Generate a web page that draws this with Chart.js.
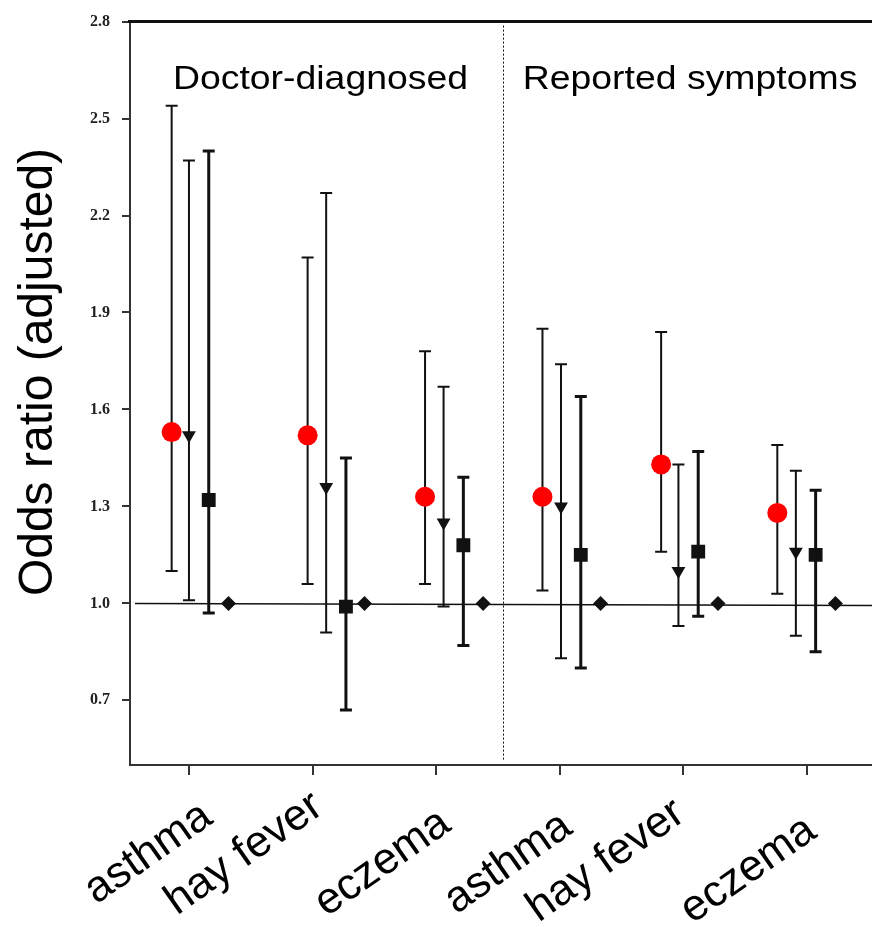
<!DOCTYPE html>
<html>
<head>
<meta charset="utf-8">
<script src="https://cdn.jsdelivr.net/npm/chart.js@4.4.1/dist/chart.umd.min.js"></script>
<style>
  html, body { margin: 0; padding: 0; background: #fff; }
  #wrap { width: 872px; height: 927px; }
</style>
</head>
<body>
<div id="wrap"><canvas id="chart-or" width="872" height="927"></canvas></div>
<script>
// x positions are in category units: 0..5 = the six outcome ticks
const categories = ['asthma', 'hay fever', 'eczema', 'asthma', 'hay fever', 'eczema'];
const groupLabels = ['Doctor-diagnosed', 'Reported symptoms'];
const groupLabelX = [-0.13, 2.70];
const dividerX = 2.54;
const yTicks = [0.7, 1.0, 1.3, 1.6, 1.9, 2.2, 2.5, 2.8];

// red circles
const circleX  = [-0.14, 0.96, 1.91, 2.86, 3.82, 4.76];
const circleOR = [1.53, 1.52, 1.33, 1.33, 1.43, 1.28];
const circleLo = [1.10, 1.06, 1.06, 1.04, 1.16, 1.03];
const circleHi = [2.54, 2.07, 1.78, 1.85, 1.84, 1.49];

// down triangles
const triX  = [0.00, 1.11, 2.06, 3.01, 3.96, 4.91];
const triOR = [1.52, 1.36, 1.25, 1.30, 1.10, 1.16];
const triLo = [1.01, 0.91, 0.99, 0.83, 0.93, 0.90];
const triHi = [2.37, 2.27, 1.67, 1.74, 1.43, 1.41];

// squares
const sqX  = [0.16, 1.27, 2.22, 3.17, 4.12, 5.07];
const sqOR = [1.32, 0.99, 1.18, 1.15, 1.16, 1.15];
const sqLo = [0.97, 0.67, 0.87, 0.80, 0.96, 0.85];
const sqHi = [2.40, 1.45, 1.39, 1.64, 1.47, 1.35];

// reference group (diamonds, OR = 1)
const refX  = [0.32, 1.42, 2.38, 3.33, 4.28, 5.23];
const refOR = [1.00, 1.00, 1.00, 1.00, 1.00, 1.00];

const pts = (xs, ys) => xs.map((x, i) => ({ x, y: ys[i] }));
const INK = '#111';
const SANS = "'Liberation Sans', Arial, sans-serif";

// whiskers with caps, drawn under the markers
const errorBars = {
  id: 'errorBars',
  beforeDatasetsDraw(chart) {
    const { ctx, scales: { x, y } } = chart;
    chart.data.datasets.forEach(ds => {
      if (!ds.lo) return;
      ctx.save();
      ctx.strokeStyle = INK;
      ctx.lineWidth = ds.whisker;
      ds.data.forEach((p, j) => {
        const px = x.getPixelForValue(p.x);
        const top = y.getPixelForValue(ds.hi[j]);
        const bot = y.getPixelForValue(ds.lo[j]);
        ctx.beginPath();
        ctx.moveTo(px, top); ctx.lineTo(px, bot);
        ctx.moveTo(px - 6, top); ctx.lineTo(px + 6, top);
        ctx.moveTo(px - 6, bot); ctx.lineTo(px + 6, bot);
        ctx.stroke();
      });
      ctx.restore();
    });
  }
};

// hand-placed nudges for the slanted outcome labels (px)
const labelNudge = [[6, 3], [-7, -7], [-3, 10], [-5, 13], [-16, 0], [-8, 17]];

// OR = 1 line, divider between the two groups, top frame line
const frame = {
  id: 'frame',
  beforeDatasetsDraw(chart) {
    const { ctx, chartArea: a, scales: { x, y } } = chart;
    ctx.save();
    ctx.strokeStyle = INK;
    ctx.lineWidth = 1.5;
    const y1 = y.getPixelForValue(1);
    ctx.beginPath(); ctx.moveTo(a.left + 5, y1); ctx.lineTo(a.right, y1 + 2); ctx.stroke();

    ctx.lineWidth = 1;
    ctx.setLineDash([2, 2]);
    const dx = Math.round(x.getPixelForValue(dividerX)) + 0.5;
    ctx.beginPath(); ctx.moveTo(dx, a.top + 4); ctx.lineTo(dx, a.bottom - 4); ctx.stroke();
    ctx.setLineDash([]);

    ctx.lineWidth = 3;
    ctx.beginPath(); ctx.moveTo(a.left - 2, a.top); ctx.lineTo(a.right, a.top); ctx.stroke();
    ctx.restore();
  },
  afterDraw(chart) {
    const { ctx, chartArea: a, scales: { x, y } } = chart;
    ctx.save();
    ctx.fillStyle = '#000';

    // group headings
    ctx.font = `34px ${SANS}`;
    ctx.textBaseline = 'alphabetic';
    ctx.textAlign = 'left';
    groupLabels.forEach((t, i) => {
      ctx.save();
      ctx.translate(x.getPixelForValue(groupLabelX[i]), 89);
      ctx.scale(1.1, 1);
      ctx.fillText(t, 0, 0);
      ctx.restore();
    });

    // slanted outcome labels
    ctx.font = `44px ${SANS}`;
    ctx.textAlign = 'right';
    ctx.textBaseline = 'top';
    categories.forEach((t, i) => {
      const [nx, ny] = labelNudge[i];
      ctx.save();
      ctx.translate(x.getPixelForValue(i) + nx, a.bottom + 26 + ny);
      ctx.rotate(-35 * Math.PI / 180);
      ctx.fillText(t, 0, 0);
      ctx.restore();
    });

    // y title
    ctx.font = `48px ${SANS}`;
    ctx.textAlign = 'center';
    ctx.textBaseline = 'middle';
    ctx.translate(39, 372);
    ctx.rotate(-Math.PI / 2);
    ctx.fillText('Odds ratio (adjusted)', 0, 0);
    ctx.restore();
  }
};

new Chart(document.getElementById('chart-or'), {
  type: 'scatter',
  data: {
    datasets: [
      { label: 'circle', data: pts(circleX, circleOR), lo: circleLo, hi: circleHi, whisker: 2,
        pointStyle: 'circle', pointRadius: 10, backgroundColor: '#ff0000', borderWidth: 0 },
      { label: 'triangle', data: pts(triX, triOR), lo: triLo, hi: triHi, whisker: 2,
        pointStyle: 'triangle', rotation: 180, pointRadius: 8, backgroundColor: INK, borderWidth: 0 },
      { label: 'square', data: pts(sqX, sqOR), lo: sqLo, hi: sqHi, whisker: 3,
        pointStyle: 'rect', pointRadius: 9.8, backgroundColor: INK, borderWidth: 0 },
      { label: 'reference', data: pts(refX, refOR),
        pointStyle: 'rectRot', pointRadius: 7.5, backgroundColor: INK, borderWidth: 0 },
    ],
  },
  options: {
    responsive: false, animation: false,
    layout: { autoPadding: false, padding: { top: 21, right: 0, left: 0, bottom: 0 } },
    plugins: { legend: { display: false }, tooltip: { enabled: false } },
    scales: {
      x: {
        type: 'linear', min: -0.477, max: 5.526,
        afterBuildTicks: s => { s.ticks = categories.map((c, i) => ({ value: i })); },
        afterFit: s => { s.height = 162; },
        ticks: { display: false },
        grid: { drawOnChartArea: false, tickLength: 10, lineWidth: 2, color: '#333' },
        border: { width: 2, color: '#333' },
      },
      y: {
        min: 0.5, max: 2.8,
        afterBuildTicks: s => { s.ticks = yTicks.map(v => ({ value: v })); },
        afterFit: s => { s.width = 130; },
        ticks: { color: '#222', padding: 12, font: { family: "'Liberation Serif', serif", weight: 'bold', size: 16 },
                 callback: v => v.toFixed(1) },
        grid: { drawOnChartArea: false, tickLength: 8, lineWidth: 2, color: '#333' },
        border: { width: 2, color: '#333' },
      },
    },
  },
  plugins: [errorBars, frame],
});
</script>
</body>
</html>
